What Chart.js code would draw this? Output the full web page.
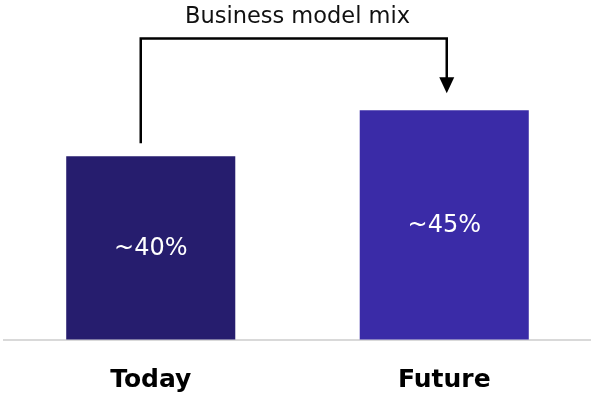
<!DOCTYPE html>
<html>
<head>
<meta charset="utf-8">
<title>Business model mix</title>
<script src="https://cdn.jsdelivr.net/npm/chart.js@4.4.1/dist/chart.umd.min.js"></script>
<style>
    html, body { margin: 0; padding: 0; background: #fff; }
    #wrap { width: 591px; height: 394px; position: relative; }
</style>
</head>
<body>
<div id="wrap"><canvas id="mixChart"></canvas></div>
<script>
const categories = ['Today', 'Future'];
const shares = [40, 45];
const shareLabels = ['~40%', '~45%'];
const chartTitle = 'Business model mix';

const barColors = ['#261D6E', '#3A2BA7'];
const fontFamily = "'DejaVu Sans', sans-serif";

// white value text in the middle of each bar
const valueLabels = {
    id: 'valueLabels',
    afterDatasetsDraw(chart) {
        const { ctx, chartArea } = chart;
        const bars = chart.getDatasetMeta(0).data;
        ctx.save();
        ctx.fillStyle = '#ffffff';
        ctx.font = `24px ${fontFamily}`;
        ctx.textAlign = 'center';
        ctx.textBaseline = 'middle';
        bars.forEach((bar, i) => {
            const mid = (bar.y + chartArea.bottom) / 2;
            ctx.fillText(shareLabels[i], bar.x, mid + 1);
        });
        ctx.restore();
    }
};

// bracket arrow from today's bar to the future bar
const bracketArrow = {
    id: 'bracketArrow',
    afterDraw(chart) {
        const { ctx } = chart;
        const [a, b] = chart.getDatasetMeta(0).data;
        const x1 = a.x - 10;
        const x2 = b.x + 2.5;
        const topY = 38.5;
        const tipY = b.y - 17;
        ctx.save();
        ctx.strokeStyle = '#000';
        ctx.fillStyle = '#000';
        ctx.lineWidth = 2.5;
        ctx.beginPath();
        ctx.moveTo(x1, a.y - 13);
        ctx.lineTo(x1, topY);
        ctx.lineTo(x2, topY);
        ctx.lineTo(x2, tipY - 14);
        ctx.stroke();
        ctx.beginPath();
        ctx.moveTo(x2 - 7.5, tipY - 16);
        ctx.lineTo(x2 + 7.5, tipY - 16);
        ctx.lineTo(x2, tipY);
        ctx.closePath();
        ctx.fill();
        ctx.restore();
    }
};

const ctx = document.getElementById('mixChart').getContext('2d');
new Chart(ctx, {
    type: 'bar',
    data: {
        labels: categories,
        datasets: [{
            data: shares,
            backgroundColor: barColors,
            borderWidth: 0,
            categoryPercentage: 1,
            barPercentage: 0.576
        }]
    },
    options: {
        responsive: true,
        maintainAspectRatio: false,
        animation: false,
        // the x axis reserves its tick padding twice, so pull it below the canvas edge
        layout: { padding: { left: 4, right: 0, top: 0, bottom: -27.5 } },
        plugins: {
            legend: { display: false },
            tooltip: { enabled: false },
            title: {
                display: true,
                text: chartTitle,
                color: '#111',
                font: { family: fontFamily, size: 22.5, weight: 'normal', lineHeight: 1.2 },
                padding: { top: 4, bottom: 33.5 }
            }
        },
        scales: {
            x: {
                grid: { display: false, drawTicks: false },
                border: { display: true, color: '#d9d9d9', width: 2 },
                ticks: {
                    color: '#000',
                    padding: 28.5,
                    font: { family: fontFamily, size: 25, weight: 'bold', lineHeight: 1 }
                }
            },
            y: {
                display: false,
                min: 20,
                max: 50
            }
        }
    },
    plugins: [valueLabels, bracketArrow]
});
</script>
</body>
</html>
